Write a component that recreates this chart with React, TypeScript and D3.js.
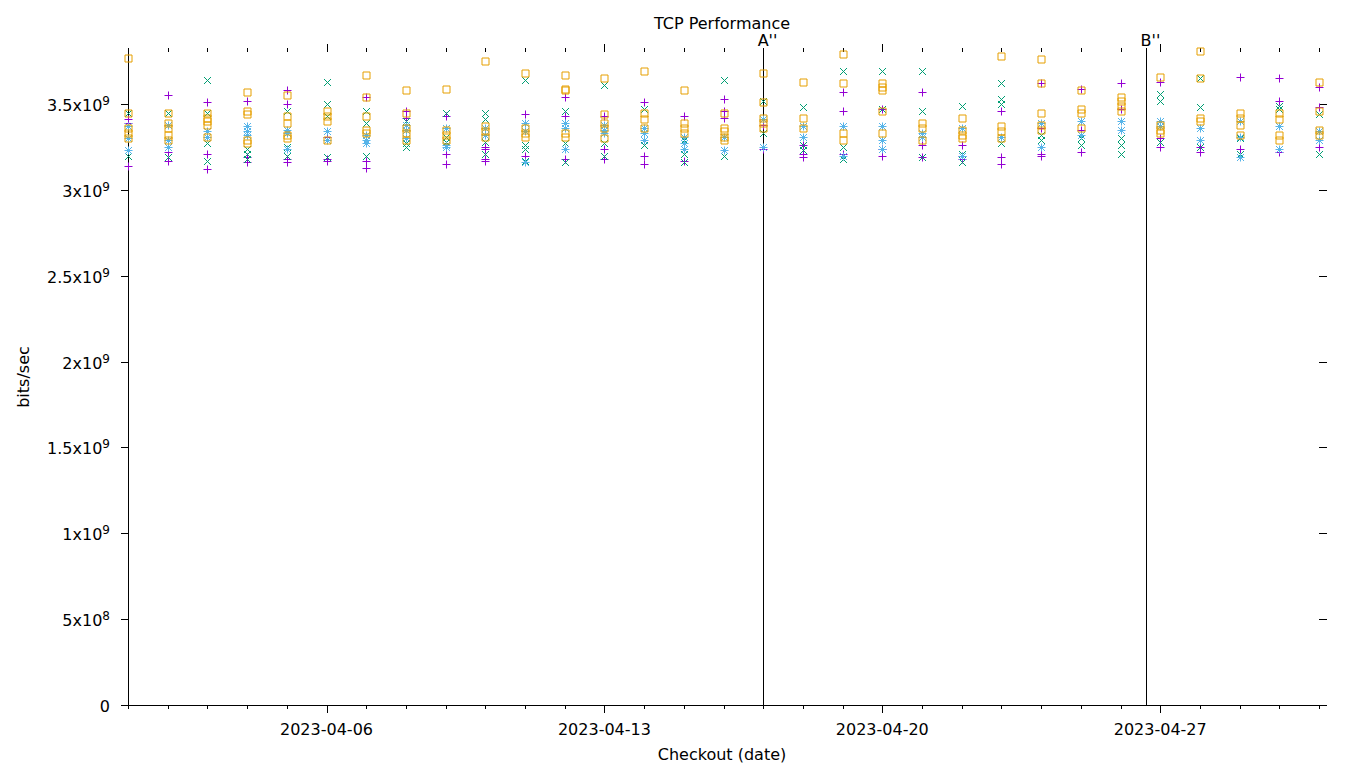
import React, { useRef, useEffect } from 'react';
import * as d3 from 'd3';

// one column per checkout day, values in units of 1e9 bits/sec
const days = d3.timeDay.range(new Date(2023, 3, 1), new Date(2023, 4, 2));

const purpleRuns = [
  [3.41, 3.39, 3.14], [3.55, 3.22, 3.17], [3.51, 3.21, 3.12], [3.52, 3.19, 3.16],
  [3.58, 3.5, 3.18, 3.16], [3.31, 3.18, 3.17], [3.54, 3.17, 3.13], [3.46, 3.42],
  [3.43, 3.21, 3.15], [3.25, 3.24, 3.18, 3.17], [3.44, 3.2], [3.54, 3.43, 3.18],
  [3.43, 3.24, 3.18], [3.51, 3.2, 3.15], [3.43, 3.17], [3.53, 3.46, 3.42],
  [3.38, 3.24], [3.26, 3.21, 3.19], [3.57, 3.46, 3.21], [3.47, 3.24, 3.2],
  [3.57, 3.26, 3.19], [3.26, 3.2, 3.18], [3.46, 3.19, 3.15], [3.62, 3.36, 3.21, 3.2],
  [3.59, 3.35, 3.22], [3.62, 3.47], [3.63, 3.3, 3.25], [3.25, 3.22],
  [3.66, 3.24], [3.65, 3.52, 3.22], [3.6, 3.48, 3.25],
];

const greenRuns = [
  [3.45, 3.23, 3.2], [3.45, 3.25, 3.19], [3.64, 3.45, 3.27, 3.17], [3.24, 3.21, 3.18],
  [3.46, 3.25, 3.2], [3.63, 3.5, 3.43, 3.19], [3.46, 3.39, 3.2], [3.4, 3.27, 3.25],
  [3.45, 3.31, 3.28], [3.45, 3.41, 3.28, 3.21], [3.64, 3.26, 3.24, 3.17], [3.46, 3.27, 3.16],
  [3.61, 3.27, 3.2], [3.47, 3.26], [3.29, 3.21, 3.16], [3.64, 3.2],
  [3.52, 3.33], [3.48, 3.26, 3.23], [3.69, 3.25, 3.18], [3.69, 3.47],
  [3.69, 3.46, 3.19], [3.49, 3.21, 3.16], [3.62, 3.53, 3.5, 3.27], [3.32, 3.29],
  [3.3, 3.26], [3.3, 3.26, 3.21], [3.56, 3.52, 3.28], [3.65, 3.48, 3.25],
  [3.3, 3.21], [3.49, 3.47], [3.44, 3.21],
];

const blueRuns = [
  [3.37, 3.3, 3.23], [3.38, 3.29, 3.25], [3.34, 3.31], [3.37, 3.34, 3.32],
  [3.35, 3.33, 3.24], [3.34, 3.29], [3.32, 3.29, 3.27], [3.38, 3.35, 3.3],
  [3.36, 3.26, 3.25], [3.36, 3.32], [3.39, 3.34, 3.16], [3.39, 3.36, 3.24],
  [3.38, 3.35, 3.33], [3.36, 3.33, 3.29], [3.31, 3.27, 3.24], [3.31, 3.23],
  [3.41, 3.25], [3.37, 3.31], [3.37, 3.2], [3.37, 3.29, 3.24],
  [3.33, 3.31], [3.36, 3.2], [3.31], [3.39, 3.25],
  [3.4, 3.32], [3.4, 3.35], [3.4, 3.37], [3.36, 3.29],
  [3.4, 3.31, 3.19], [3.37, 3.24], [3.34, 3.29],
];

const orangeRuns = [
  [3.77, 3.45, 3.36, 3.33, 3.3], [3.45, 3.39, 3.36, 3.32, 3.29], [3.45, 3.42, 3.4, 3.38, 3.31],
  [3.57, 3.46, 3.44, 3.29, 3.27], [3.55, 3.43, 3.39, 3.32, 3.3], [3.46, 3.43, 3.4, 3.29],
  [3.67, 3.54, 3.43, 3.35, 3.33], [3.58, 3.45, 3.36, 3.33, 3.29], [3.59, 3.35, 3.32, 3.29],
  [3.75, 3.37, 3.34, 3.31], [3.68, 3.36, 3.33, 3.31], [3.67, 3.59, 3.58, 3.33, 3.31],
  [3.65, 3.44, 3.39, 3.36, 3.3], [3.69, 3.45, 3.41, 3.36], [3.58, 3.39, 3.36, 3.33],
  [3.45, 3.36, 3.34, 3.31, 3.29], [3.68, 3.51, 3.42, 3.39, 3.36], [3.63, 3.42, 3.36],
  [3.79, 3.62, 3.33, 3.29], [3.62, 3.6, 3.58, 3.46, 3.33], [3.39, 3.36, 3.29],
  [3.42, 3.35, 3.32, 3.3], [3.78, 3.37, 3.34, 3.3], [3.76, 3.62, 3.45, 3.38, 3.35],
  [3.58, 3.47, 3.45, 3.36], [3.54, 3.52, 3.49, 3.46], [3.66, 3.38, 3.35, 3.33],
  [3.81, 3.65, 3.42, 3.4], [3.45, 3.42, 3.38, 3.32], [3.45, 3.41, 3.32, 3.29],
  [3.63, 3.46, 3.35, 3.32],
];

const series = [
  { runs: purpleRuns, color: '#9400D3', marker: 'plus' },
  { runs: greenRuns, color: '#009E73', marker: 'cross' },
  { runs: blueRuns, color: '#56B4E9', marker: 'star' },
  { runs: orangeRuns, color: '#E69F00', marker: 'square' },
];

const markers = [
  { label: "A''", date: new Date(2023, 3, 17, 0, 0) },
  { label: "B''", date: new Date(2023, 3, 26, 15, 30) },
];

const majorDates = [6, 13, 20, 27].map((d) => new Date(2023, 3, d));

const markerPath = (kind: string) => {
  const a = 4;
  const b = 3.5;
  if (kind === 'plus') return `M${-a},0H${a}M0,${-a}V${a}`;
  if (kind === 'cross') return `M${-b},${-b}L${b},${b}M${-b},${b}L${b},${-b}`;
  if (kind === 'star')
    return `M${-a},0H${a}M0,${-a}V${a}M${-b},${-b}L${b},${b}M${-b},${b}L${b},${-b}`;
  return `M${-b},${-b}H${b}V${b}H${-b}Z`;
};

const Chart = () => {
  const ref = useRef(null);

  useEffect(() => {
    if (!ref.current) return;
    const svg = d3.select(ref.current);
    svg.selectAll('*').remove();

    const left = 128;
    const bottom = 705;
    const top = 48;
    const right = 1327;

    const x = d3
      .scaleTime()
      .domain([new Date(2023, 3, 1), new Date(2023, 4, 1)])
      .range([left, 1319]);
    const y = d3.scaleLinear().domain([0, 3.5]).range([bottom, 104]);

    const font = 'DejaVu Sans, sans-serif';

    // title
    svg
      .append('text')
      .attr('x', 722)
      .attr('y', 29)
      .attr('text-anchor', 'middle')
      .attr('font-size', 16)
      .style('font-family', font)
      .text('TCP Performance');

    // axis lines
    svg
      .append('path')
      .attr('d', `M${left + 0.5},${top}V${bottom + 0.5}H${right}`)
      .attr('fill', 'none')
      .attr('stroke', 'black')
      .attr('stroke-width', 1);

    // x ticks (daily minor, weekly major), bottom and top
    const tickG = svg.append('g').attr('stroke', 'black').attr('stroke-width', 1);
    days.forEach((d) => {
      const major = majorDates.some((m) => +m === +d);
      const xx = Math.round(x(d)) + 0.5;
      tickG
        .append('line')
        .attr('x1', xx)
        .attr('x2', xx)
        .attr('y1', bottom)
        .attr('y2', bottom + (major ? 8 : 4));
      tickG
        .append('line')
        .attr('x1', xx)
        .attr('x2', xx)
        .attr('y1', 52)
        .attr('y2', major ? 44 : 48);
    });

    majorDates.forEach((d) => {
      svg
        .append('text')
        .attr('x', x(d))
        .attr('y', 735)
        .attr('text-anchor', 'middle')
        .attr('font-size', 16)
        .style('font-family', font)
        .text(d3.timeFormat('%Y-%m-%d')(d));
    });

    // y ticks left and right
    y.ticks(7).forEach((v) => {
      const yy = Math.round(y(v)) + 0.5;
      tickG.append('line').attr('x1', left - 7).attr('x2', left).attr('y1', yy).attr('y2', yy);
      tickG.append('line').attr('x1', 1319).attr('x2', right).attr('y1', yy).attr('y2', yy);

      const t = svg
        .append('text')
        .attr('x', 110)
        .attr('y', yy + 6)
        .attr('text-anchor', 'end')
        .attr('font-size', 16)
        .style('font-family', font);
      if (v === 0) {
        t.text('0');
      } else {
        const exp = v < 1 ? 8 : 9;
        const mant = v < 1 ? v * 10 : v;
        t.append('tspan').text(`${d3.format('~g')(mant)}x10`);
        t.append('tspan').attr('dy', -6).attr('font-size', 12).text(exp);
      }
    });

    // axis titles
    svg
      .append('text')
      .attr('transform', 'translate(29,377) rotate(-90)')
      .attr('text-anchor', 'middle')
      .attr('font-size', 16)
      .style('font-family', font)
      .text('bits/sec');
    svg
      .append('text')
      .attr('x', 722)
      .attr('y', 760)
      .attr('text-anchor', 'middle')
      .attr('font-size', 16)
      .style('font-family', font)
      .text('Checkout (date)');

    // checkpoints
    markers.forEach((m) => {
      const xx = Math.round(x(m.date)) + 0.5;
      svg
        .append('line')
        .attr('x1', xx)
        .attr('x2', xx)
        .attr('y1', 48)
        .attr('y2', bottom)
        .attr('stroke', 'black')
        .attr('stroke-width', 1);
      svg
        .append('text')
        .attr('x', xx + 4)
        .attr('y', 46)
        .attr('text-anchor', 'middle')
        .attr('font-size', 16)
        .style('font-family', font)
        .text(m.label);
    });

    // points
    series.forEach((s) => {
      const pts = s.runs.flatMap((vals, i) => vals.map((v) => ({ d: days[i], v })));
      svg
        .append('g')
        .selectAll('path')
        .data(pts)
        .enter()
        .append('path')
        .attr('transform', (p) => `translate(${Math.round(x(p.d)) + 0.5},${Math.round(y(p.v)) + 0.5})`)
        .attr('d', markerPath(s.marker))
        .attr('fill', 'none')
        .attr('stroke', s.color)
        .attr('stroke-width', 1);
    });
  }, []);

  return (
    <svg
      ref={ref}
      width={1360}
      height={768}
      style={{ position: 'absolute', left: 0, top: 0, background: 'white' }}
    />
  );
};

export default function App() {
  return <Chart />;
}
